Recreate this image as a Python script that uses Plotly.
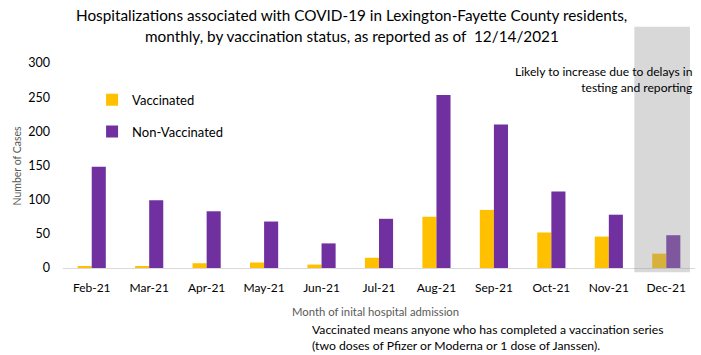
import plotly.graph_objects as go

months = ["Feb-21", "Mar-21", "Apr-21", "May-21", "Jun-21", "Jul-21",
          "Aug-21", "Sep-21", "Oct-21", "Nov-21", "Dec-21"]
vaccinated = [2, 2, 7, 8, 5, 15, 75, 85, 52, 46, 21]
non_vaccinated = [148, 99, 83, 68, 36, 72, 253, 210, 112, 78, 48]
y_ticks = [0, 50, 100, 150, 200, 250, 300]

FONT = "Lato"
fig = go.Figure()
fig.add_trace(go.Bar(x=months, y=vaccinated, name="Vaccinated",
                     marker=dict(color="#FFC000", line=dict(width=0)),
                     legendgroup="a"))
fig.add_trace(go.Bar(x=months, y=non_vaccinated, name="Non-Vaccinated",
                     marker=dict(color="#7030A0", line=dict(width=0)),
                     legendgroup="b"))

fig.update_layout(
    width=701, height=355,
    margin=dict(l=63, r=6, t=63, b=87),
    paper_bgcolor="white", plot_bgcolor="white",
    font=dict(family=FONT, color="#404040"),
    barmode="group", bargap=0.51, bargroupgap=0,
    legend=dict(x=0.046, y=0.894, xanchor="left", yanchor="top",
                bgcolor="rgba(0,0,0,0)", tracegroupgap=12,
                font=dict(family=FONT, size=13, color="#000000")),
    xaxis=dict(showline=True, linecolor="#d9d9d9", linewidth=1,
               showgrid=False, ticks="", automargin=False,
               ticklabelstandoff=9,
               tickfont=dict(family=FONT, size=12, color="#000000")),
    yaxis=dict(range=[0, 300], tickvals=y_ticks, showgrid=False,
               zeroline=False, showline=False, automargin=False,
               tickfont=dict(family=FONT, size=12.5, color="#000000"),
               ticklabelstandoff=12),
)

fig.add_shape(type="rect", xref="paper", yref="paper",
              x0=0.904, x1=0.992, y0=-0.021, y1=1.177,
              fillcolor="rgba(152,152,155,0.38)", line=dict(width=0),
              layer="above")

def note(text, x, y, size, color="#000000", xanchor="center", align="center", angle=0):
    fig.add_annotation(xref="paper", yref="paper", x=x, y=y,
                       xanchor=xanchor, yanchor="middle", align=align,
                       showarrow=False, text=text, textangle=angle,
                       font=dict(family=FONT, size=size, color=color))

# title
note("Hospitalizations associated with COVID-19 in Lexington-Fayette County residents,",
     0.457, 1.2356, 15.3)
note("monthly, by vaccination status, as reported as of  12/14/2021",
     0.457, 1.1332, 15.3)
# axis titles
note("Month of inital hospital admission", 0.495, -0.213, 11.3, color="#595959")
note("Number of Cases", -0.0728, 0.5, 10.5, color="#595959", angle=-90)
# right note
note("Likely to increase due to delays in<br>testing and reporting",
     1.0, 0.9185, 12.1, xanchor="right", align="right")
# footnote
note("Vaccinated means anyone who has completed a vaccination series<br>(two doses of Pfizer or Moderna or 1 dose of Janssen).",
     0.391, -0.340, 12.2, xanchor="left", align="left")

fig.write_html("out.html", config={"displayModeBar": False},
               post_script="document.body.style.margin='0';")
